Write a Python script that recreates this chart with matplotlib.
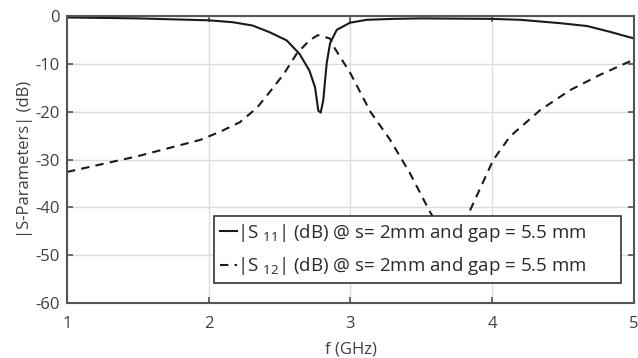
# S-parameter plot (|S11|, |S12| vs frequency)

import matplotlib.pyplot as plt
import numpy as np

# データ
f11 = [1.0, 1.5, 2.0, 2.17, 2.31, 2.43, 2.55, 2.64, 2.71, 2.75, 2.773, 2.79,
       2.808, 2.832, 2.856, 2.903, 2.997, 3.114, 3.3, 3.5, 4.0, 4.2, 4.36, 4.48,
       4.67, 4.83, 5.0]
s11 = [-0.3, -0.5, -0.9, -1.3, -2.0, -3.4, -5.1, -7.9, -11.4, -14.9, -19.8, -20.2,
       -17.6, -9.9, -5.7, -2.9, -1.4, -0.8, -0.6, -0.5, -0.6, -0.8, -1.2, -1.5,
       -2.1, -3.3, -4.7]

f12 = [1.0, 1.5, 1.94, 2.08, 2.22, 2.34, 2.43, 2.53, 2.62, 2.71, 2.77, 2.855, 2.89,
       3.0, 3.14, 3.28, 3.42, 3.56, 3.716, 3.855, 4.007, 4.125, 4.337, 4.549, 4.76,
       4.97, 5.0]
s12 = [-32.6, -29.3, -25.9, -24.2, -22.2, -19.2, -15.9, -12.1, -7.9, -5.1, -4.0, -4.7, -6.8,
       -12.0, -20.0, -25.9, -32.9, -40.9, -48.8, -39.9, -30.1, -25.2, -19.7, -15.5, -12.3,
       -9.5, -9.2]

label11 = '|S $_{11}$| (dB) @ s= 2mm and gap = 5.5 mm'
label12 = '|S $_{12}$| (dB) @ s= 2mm and gap = 5.5 mm'

# スタイル
plt.rcParams['font.family'] = ['Open Sans', 'DejaVu Sans']
plt.rcParams['mathtext.fontset'] = 'custom'
plt.rcParams['mathtext.rm'] = 'Open Sans'
plt.rcParams['mathtext.it'] = 'Open Sans'
plt.rcParams['mathtext.default'] = 'rm'
plt.rcParams['axes.unicode_minus'] = False
txt = '#404040'

fig = plt.figure(figsize=(6.38, 3.58), dpi=100)
ax = fig.add_axes([0.105, 0.1536, 0.8887, 0.8017])

ax.plot(f11, s11, color='#1a1a1a', lw=1.5, label=label11)
ax.plot(f12, s12, color='#1a1a1a', lw=1.5, ls=(0, (4, 3)), label=label12)

ax.set_xlim(1, 5)
ax.set_ylim(-60, 0)
ax.set_xticks(np.arange(1, 6, 1))
ax.set_yticks(np.arange(-60, 1, 10))
ax.grid(True, color='#dcdcdc', lw=1.0)
ax.set_axisbelow(True)
ax.tick_params(direction='in', top=True, right=True, length=4, width=1.2,
               colors='#505050', labelcolor=txt, labelsize=12)
ax.tick_params(axis='x', pad=9)
ax.tick_params(axis='y', pad=5)
for sp in ax.spines.values():
    sp.set_color('#555555')
    sp.set_linewidth(1.5)

ax.set_xlabel('f (GHz)', color=txt, fontsize=12, labelpad=7)
ax.set_ylabel('|S-Parameters| (dB)', color=txt, fontsize=12, labelpad=2)

leg = ax.legend(loc='lower left', bbox_to_anchor=(0.2593, 0.0707, 0.718, 0.244),
                mode='expand', fontsize=13.5,
                fancybox=False, framealpha=1, edgecolor='#333333',
                handlelength=0.9, handletextpad=0.05, borderpad=0.3,
                labelspacing=0.6, borderaxespad=0)
leg.get_frame().set_linewidth(1.2)
for t in leg.get_texts():
    t.set_color('#2a2a2a')

plt.savefig('out.png', dpi=100)
